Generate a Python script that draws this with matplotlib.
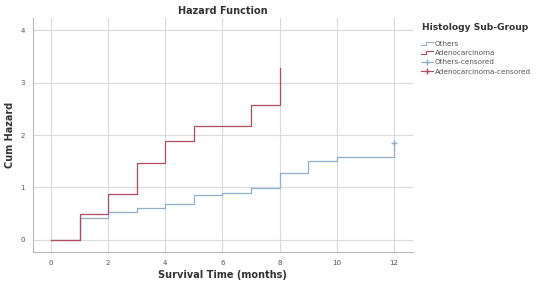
import matplotlib
matplotlib.use("Agg")
import matplotlib.pyplot as plt
from matplotlib.lines import Line2D
from matplotlib.legend_handler import HandlerBase

# data (step functions, value holds from time onward)
others_time = [0, 1, 2, 3, 4, 5, 6, 7, 8, 9, 10, 12]
others_haz = [0.0, 0.41, 0.53, 0.60, 0.68, 0.86, 0.90, 0.99, 1.27, 1.50, 1.59, 1.85]
adeno_time = [0, 1, 2, 3, 4, 5, 7, 8]
adeno_haz = [0.0, 0.49, 0.87, 1.47, 1.88, 2.17, 2.57, 3.27]
others_cens_time = [12]
others_cens_haz = [1.85]

blue = "#8fb0cc"
red = "#b24a60"


class StepHandler(HandlerBase):
    def create_artists(self, legend, orig, xd, yd, w, h, fontsize, trans):
        xs = [xd, xd + w * 0.45, xd + w * 0.45, xd + w]
        ys = [yd + h * 0.2, yd + h * 0.2, yd + h * 0.8, yd + h * 0.8]
        ln = Line2D(xs, ys, color=orig.get_color(), lw=0.8, transform=trans)
        return [ln]


fig = plt.figure(figsize=(5.41, 2.92), dpi=100)
ax = fig.add_axes([0.061, 0.137, 0.702, 0.801])

ax.step(others_time, others_haz, where="post", color=blue, lw=0.9, zorder=3)
ax.step(adeno_time, adeno_haz, where="post", color=red, lw=0.9, zorder=4)
ax.plot(others_cens_time, others_cens_haz, "+", color=blue, ms=5, mew=1.0, zorder=5)

ax.set_xlim(-0.63, 12.66)
ax.set_ylim(-0.23, 4.23)
ax.set_xticks(range(0, 13, 2))
ax.set_yticks(range(0, 5))
ax.grid(True, color="#dadada", lw=0.8)
ax.set_axisbelow(True)
for s in ["top", "right"]:
    ax.spines[s].set_visible(False)
for s in ["left", "bottom"]:
    ax.spines[s].set_color("#b8b8b8")
    ax.spines[s].set_linewidth(0.8)
ax.tick_params(length=0, labelsize=5, colors="#555555", pad=6)

ax.set_title("Hazard Function", fontsize=7, fontweight="bold", color="#333333", pad=3)
ax.set_xlabel("Survival Time (months)", fontsize=7, fontweight="bold", color="#333333", labelpad=3)
ax.set_ylabel("Cum Hazard", fontsize=7, fontweight="bold", color="#333333", labelpad=4)

fig.text(422 / 541, 1 - 28 / 292, "Histology Sub-Group", fontsize=6.6, fontweight="bold",
         color="#333333", va="center", ha="left")

h1 = Line2D([], [], color=blue)
h2 = Line2D([], [], color=red)
h3 = Line2D([], [], color=blue, marker="+", lw=0.8, ms=5)
h4 = Line2D([], [], color=red, marker="+", lw=0.8, ms=5)
leg = fig.legend([h1, h2, h3, h4],
                 ["Others", "Adenocarcinoma", "Others-censored", "Adenocarcinoma-censored"],
                 loc="upper left", bbox_to_anchor=(0.772, 1 - 37 / 292), frameon=False,
                 fontsize=5.2, handlelength=1.6,
                 handletextpad=0.3, labelspacing=0.45, borderpad=0,
                 handler_map={h1: StepHandler(), h2: StepHandler()})
for t in leg.get_texts():
    t.set_color("#555555")

fig.savefig("out.png", dpi=100)
